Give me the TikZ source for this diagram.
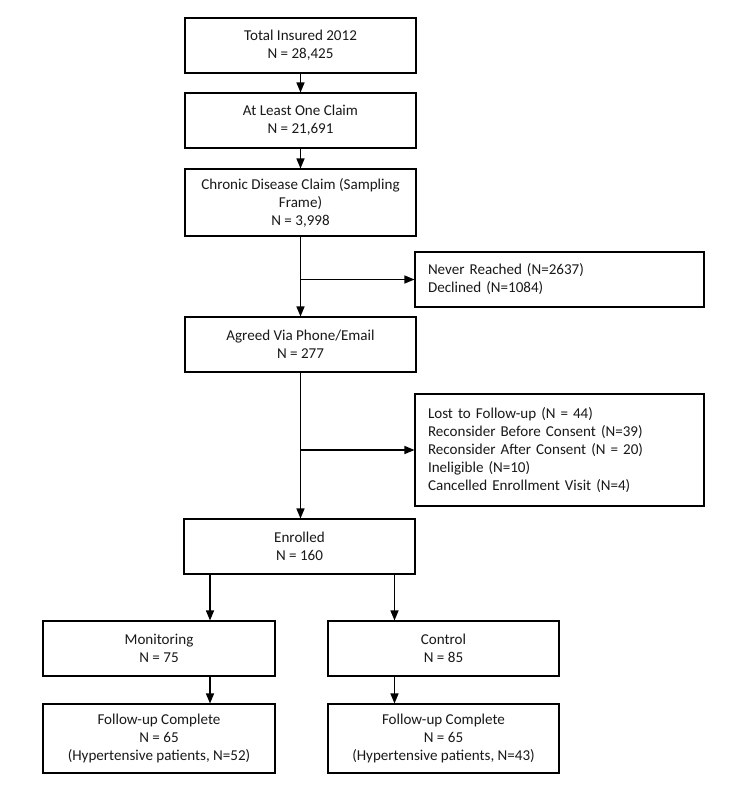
\documentclass[tikz,border=0pt]{standalone}
\usepackage{fontspec}
\setmainfont{Carlito}
\usetikzlibrary{arrows.meta}
\begin{document}
\begin{tikzpicture}[x=0.75pt,y=-0.75pt,
  box/.style={draw=black,line width=0.8pt,align=center,inner sep=0pt,
    font=\fontsize{11.3pt}{13.5pt}\selectfont,text=black!90},
  sidebox/.style={draw=black,line width=0.8pt,align=left,inner xsep=9.75pt,inner ysep=0pt,
    text width=197.25pt,font=\fontsize{11.3pt}{13.5pt}\selectfont,text=black!90},
  flow/.style={line width=1pt,-{Triangle[length=7.5pt,width=6pt]}}]
\fill[white] (0,0) rectangle (750,786);
\useasboundingbox (0,0) rectangle (750,786);

\node[box,minimum width=173.25pt,minimum height=41.25pt] (b1) at (300.5,45.5) {Total Insured 2012\\N = 28,425};
\node[box,minimum width=173.25pt,minimum height=41.25pt] (b2) at (300.5,120.5) {At Least One Claim\\N = 21,691};
\node[box,minimum width=173.25pt,minimum height=50.25pt] (b3) at (300.5,202.5) {Chronic Disease Claim (Sampling\\Frame)\\N = 3,998};
\node[sidebox,minimum height=41.25pt] (never) at (559.5,279.5) {Never Reached (N=2637)\\Declined (N=1084)};
\node[box,minimum width=173.25pt,minimum height=41.25pt] (agreed) at (300.5,344.5) {Agreed Via Phone/Email\\N = 277};
\node[sidebox,minimum height=84pt] (lost) at (559.5,450) {Lost to Follow-up (N = 44)\\Reconsider Before Consent (N=39)\\Reconsider After Consent (N = 20)\\Ineligible (N=10)\\Cancelled Enrollment Visit (N=4)};
\node[box,minimum width=173.25pt,minimum height=41.25pt] (enr) at (299.5,546.5) {Enrolled\\N = 160};
\node[box,minimum width=174pt,minimum height=41.25pt] (mon) at (159,648.5) {Monitoring\\N = 75};
\node[box,minimum width=173.25pt,minimum height=41.25pt] (ctl) at (443.5,648.5) {Control\\N = 85};
\node[box,minimum width=174pt,minimum height=51.75pt] (fu1) at (159,738.5) {Follow-up Complete\\N = 65\\(Hypertensive patients, N=52)};
\node[box,minimum width=173.25pt,minimum height=51.75pt] (fu2) at (443.5,738.5) {Follow-up Complete\\N = 65\\(Hypertensive patients, N=43)};

\coordinate (xl) at (210,0);
\coordinate (xr) at (394.5,0);

\draw[flow] (b1.south) -- (b2.north);
\draw[flow] (b2.south) -- (b3.north);
\draw[flow] (b3.south) -- (agreed.north);
\draw[flow] (b3.south |- never.west) -- (never.west);
\draw[flow] (agreed.south) -- (agreed.south |- enr.north);
\draw[flow] (agreed.south |- lost.west) -- (lost.west);
\draw[flow] (enr.south -| xl) -- (mon.north -| xl);
\draw[flow] (enr.south -| xr) -- (ctl.north -| xr);
\draw[flow] (mon.south -| xl) -- (fu1.north -| xl);
\draw[flow] (ctl.south -| xr) -- (fu2.north -| xr);
\end{tikzpicture}
\end{document}
